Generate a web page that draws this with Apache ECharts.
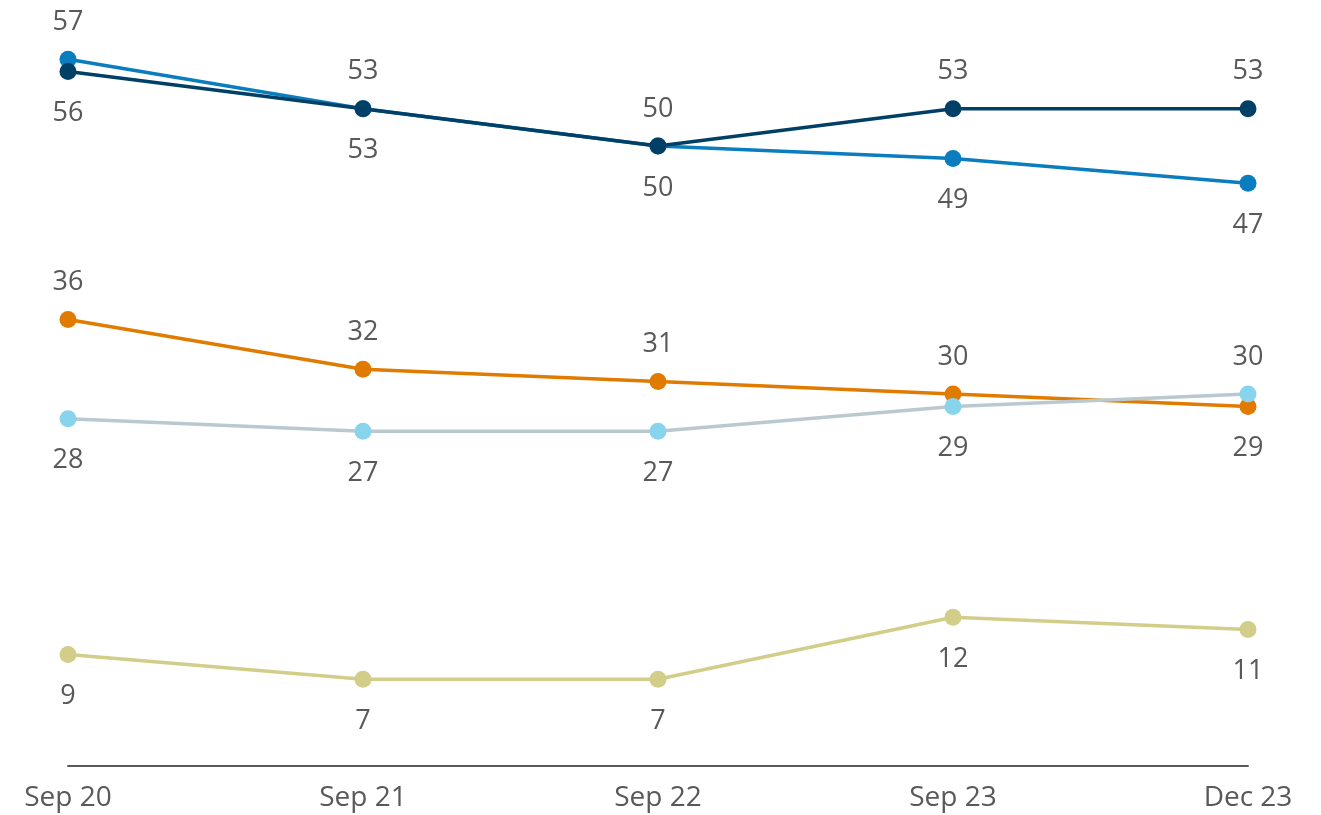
<!DOCTYPE html>
<html>
<head>
<meta charset="utf-8">
<script src="https://cdn.jsdelivr.net/npm/echarts@6/dist/echarts.min.js"></script>
<style>
  * { margin: 0; padding: 0; }
  html, body { background: #fff; }
  #chart { width: 1321px; height: 815px; }
</style>
</head>
<body>
<div id="chart"></div>
<script>
// categories
const periods = ['Sep 20', 'Sep 21', 'Sep 22', 'Sep 23', 'Dec 23']

// series values
const seriesBlue = [57, 53, 50, 49, 47]
const seriesNavy = [56, 53, 50, 53, 53]
const seriesOrange = [36, 32, 31, 30, 29]
const seriesPale = [28, 27, 27, 29, 30]
const seriesKhaki = [9, 7, 7, 12, 11]

// where each value label goes (above / below the point)
const posBlue = ['top', 'bottom', 'bottom', 'bottom', 'bottom']
const posNavy = ['bottom', 'top', 'top', 'top', 'top']
const posOrange = ['top', 'top', 'top', 'top', 'bottom']
const posPale = ['bottom', 'bottom', 'bottom', 'bottom', 'top']
const posKhaki = ['bottom', 'bottom', 'bottom', 'bottom', 'bottom']

const font = '"Open Sans", "Noto Sans", sans-serif'
const textGrey = '#595959'

function makeSeries(name, values, positions, lineColor, dotColor) {
  return {
    name: name,
    type: 'line',
    data: values.map((v, i) => ({
      value: v,
      label: {
        position: positions[i],
        distance: positions[i] === 'top' ? 15 : 20
      }
    })),
    symbol: 'circle',
    symbolSize: 17,
    lineStyle: { color: lineColor, width: 3.5 },
    itemStyle: { color: dotColor },
    label: {
      show: true,
      fontFamily: font,
      fontSize: 27,
      color: textGrey
    },
    emphasis: { disabled: true },
    animation: false
  }
}

const chart = echarts.init(document.getElementById('chart'))
chart.setOption({
  backgroundColor: '#fff',
  grid: {
    left: 68,
    right: 73,
    top: 22,
    bottom: 49
  },
  xAxis: {
    type: 'category',
    boundaryGap: false,
    data: periods,
    axisLine: { lineStyle: { color: textGrey, width: 2 } },
    axisTick: { show: false },
    axisLabel: {
      fontFamily: font,
      fontSize: 28,
      color: textGrey,
      margin: 18
    }
  },
  yAxis: {
    type: 'value',
    min: 0,
    max: 60,
    show: false,
    splitLine: { show: false }
  },
  series: [
    makeSeries('Blue', seriesBlue, posBlue, '#0a7dbf', '#0a7dbf'),
    makeSeries('Navy', seriesNavy, posNavy, '#003f66', '#003f66'),
    makeSeries('Orange', seriesOrange, posOrange, '#e07b00', '#e07b00'),
    makeSeries('Pale', seriesPale, posPale, '#b9c9cf', '#87d4ec'),
    makeSeries('Khaki', seriesKhaki, posKhaki, '#d3cd8a', '#d3cd8a')
  ]
})
</script>
</body>
</html>
